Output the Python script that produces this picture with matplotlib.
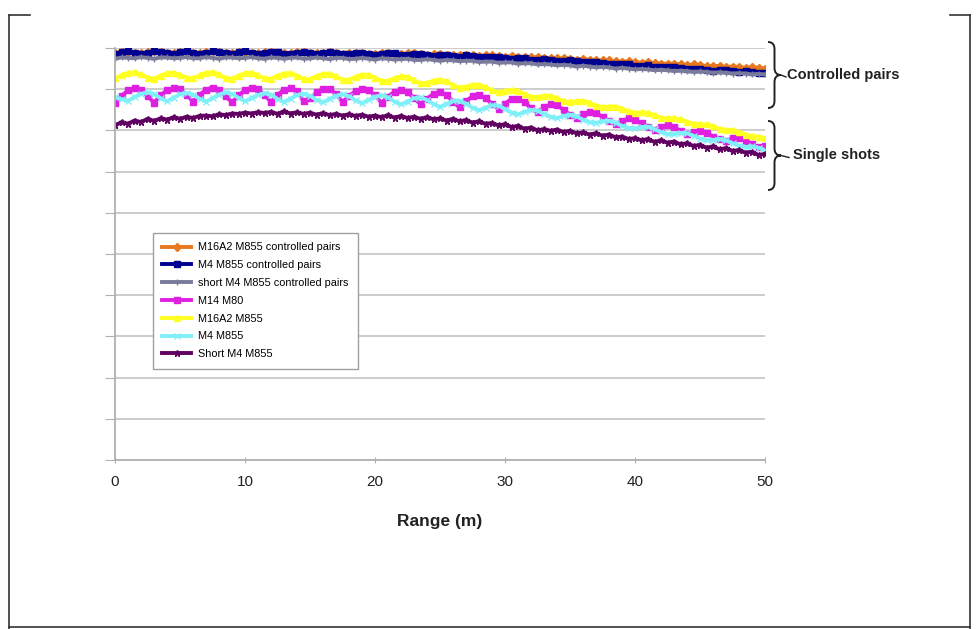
import matplotlib
matplotlib.use('Agg')
import matplotlib.pyplot as plt
from matplotlib.path import Path
from matplotlib.patches import PathPatch
from matplotlib.lines import Line2D

plt.rcParams['font.family'] = ['Liberation Sans', 'DejaVu Sans']

# range sampled every 0.5 m
range_m = [i * 0.5 for i in range(101)]

m16a2_m855_cp = [
    98.8, 99.1, 99.1, 98.8, 98.7, 99.0, 99.2, 99.0, 98.7, 98.8,
    99.1, 99.1, 98.8, 98.7, 99.0, 99.2, 99.0, 98.7, 98.8, 99.1,
    99.1, 98.8, 98.7, 99.0, 99.1, 98.9, 98.7, 98.8, 99.0, 99.0,
    98.7, 98.7, 98.9, 99.0, 98.8, 98.6, 98.7, 98.9, 98.9, 98.6,
    98.6, 98.8, 98.8, 98.6, 98.5, 98.7, 98.7, 98.5, 98.4, 98.6,
    98.6, 98.4, 98.3, 98.4, 98.4, 98.2, 98.1, 98.2, 98.2, 98.0,
    97.9, 98.0, 97.9, 97.7, 97.7, 97.8, 97.6, 97.5, 97.5, 97.5,
    97.3, 97.2, 97.3, 97.2, 97.0, 97.0, 97.0, 96.8, 96.7, 96.8,
    96.6, 96.4, 96.5, 96.4, 96.2, 96.2, 96.2, 96.0, 95.9, 96.0,
    95.8, 95.6, 95.7, 95.6, 95.4, 95.5, 95.4, 95.2, 95.3, 95.2,
    95.0]
m4_m855_cp = [
    98.6, 99.0, 99.2, 98.9, 98.6, 98.8, 99.2, 99.1, 98.7, 98.6,
    99.0, 99.2, 98.9, 98.6, 98.8, 99.2, 99.1, 98.7, 98.6, 99.0,
    99.2, 98.9, 98.6, 98.8, 99.1, 99.0, 98.6, 98.5, 98.9, 99.0,
    98.7, 98.5, 98.7, 99.0, 98.9, 98.5, 98.5, 98.8, 98.9, 98.6,
    98.4, 98.6, 98.8, 98.7, 98.3, 98.3, 98.6, 98.6, 98.2, 98.1,
    98.4, 98.4, 98.0, 97.9, 98.2, 98.1, 97.8, 97.7, 97.9, 97.9,
    97.5, 97.4, 97.6, 97.6, 97.2, 97.1, 97.3, 97.2, 96.9, 96.8,
    97.0, 96.8, 96.5, 96.5, 96.6, 96.4, 96.1, 96.1, 96.2, 96.0,
    95.7, 95.7, 95.8, 95.5, 95.3, 95.3, 95.4, 95.1, 94.9, 95.0,
    95.0, 94.7, 94.5, 94.6, 94.6, 94.3, 94.2, 94.3, 94.2, 93.9,
    93.9]
short_m4_m855_cp = [
    97.4, 97.7, 97.6, 97.5, 97.8, 97.6, 97.4, 97.7, 97.7, 97.5,
    97.6, 97.8, 97.5, 97.5, 97.8, 97.6, 97.4, 97.7, 97.7, 97.5,
    97.6, 97.8, 97.5, 97.4, 97.7, 97.6, 97.4, 97.6, 97.7, 97.4,
    97.5, 97.7, 97.5, 97.3, 97.6, 97.6, 97.3, 97.4, 97.6, 97.4,
    97.2, 97.5, 97.4, 97.2, 97.3, 97.4, 97.1, 97.1, 97.3, 97.1,
    96.9, 97.1, 97.0, 96.8, 96.9, 96.9, 96.6, 96.7, 96.7, 96.4,
    96.5, 96.5, 96.2, 96.3, 96.3, 96.0, 96.1, 96.0, 95.8, 95.9,
    95.8, 95.5, 95.7, 95.5, 95.3, 95.4, 95.3, 95.0, 95.2, 95.0,
    94.8, 94.9, 94.8, 94.6, 94.7, 94.6, 94.4, 94.5, 94.4, 94.2,
    94.3, 94.2, 94.0, 94.1, 94.0, 93.8, 93.9, 93.8, 93.6, 93.7,
    93.6]
m14_m80 = [
    86.6, 88.4, 89.7, 90.3, 89.9, 88.4, 86.7, 88.5, 89.8, 90.2,
    90.0, 88.7, 87.0, 88.6, 89.9, 90.4, 89.8, 88.3, 86.8, 88.5,
    89.8, 90.3, 90.1, 88.6, 86.9, 88.6, 89.9, 90.2, 89.5, 87.1,
    87.8, 89.2, 90.1, 90.0, 88.9, 86.9, 88.3, 89.6, 90.0, 89.7,
    88.5, 86.7, 88.2, 89.4, 89.8, 89.3, 87.9, 86.3, 87.7, 88.9,
    89.2, 88.6, 87.0, 85.6, 87.1, 88.3, 88.6, 87.9, 86.4, 85.2,
    86.5, 87.6, 87.7, 86.8, 85.4, 84.4, 85.6, 86.3, 86.1, 85.0,
    83.8, 83.0, 83.9, 84.5, 84.2, 83.3, 82.2, 81.5, 82.3, 82.9,
    82.5, 81.7, 80.8, 80.2, 80.9, 81.3, 80.8, 79.9, 79.1, 79.6,
    79.9, 79.4, 78.5, 77.8, 77.5, 78.1, 78.2, 77.5, 76.6, 75.9,
    76.2]
m16a2_m855 = [
    92.6, 93.4, 94.0, 94.1, 93.6, 92.8, 92.5, 93.3, 93.9, 94.0,
    93.5, 92.8, 92.6, 93.4, 94.0, 94.1, 93.6, 92.7, 92.5, 93.3,
    93.9, 94.0, 93.4, 92.6, 92.5, 93.3, 93.8, 93.9, 93.3, 92.5,
    92.4, 93.2, 93.7, 93.8, 93.1, 92.3, 92.3, 93.0, 93.5, 93.5,
    92.8, 92.0, 92.0, 92.7, 93.1, 93.0, 92.2, 91.4, 91.5, 92.1,
    92.3, 91.9, 91.0, 90.4, 90.6, 91.1, 91.1, 90.5, 89.7, 89.3,
    89.6, 89.9, 89.6, 88.8, 88.2, 88.1, 88.4, 88.4, 87.8, 87.1,
    86.9, 87.1, 87.2, 86.7, 86.0, 85.7, 85.8, 85.8, 85.3, 84.6,
    84.3, 84.4, 84.3, 83.7, 83.1, 82.9, 83.0, 82.7, 82.1, 81.6,
    81.5, 81.5, 81.0, 80.4, 80.1, 80.1, 79.6, 79.0, 78.6, 78.5,
    78.1]
m4_m855 = [
    88.0, 87.6, 87.2, 88.1, 88.9, 89.2, 88.8, 87.8, 87.1, 87.9,
    88.8, 89.1, 88.7, 87.7, 87.0, 87.8, 88.7, 89.2, 88.9, 87.9,
    87.1, 87.8, 88.6, 89.0, 88.7, 87.6, 86.9, 87.7, 88.6, 88.9,
    88.4, 87.4, 86.8, 87.6, 88.4, 88.8, 88.3, 87.3, 86.6, 87.4,
    88.2, 88.5, 88.0, 87.0, 86.3, 87.0, 87.8, 88.0, 87.4, 86.4,
    85.7, 86.4, 87.1, 87.2, 86.5, 85.5, 84.9, 85.5, 86.1, 86.0,
    85.2, 84.3, 83.9, 84.5, 85.0, 84.8, 84.0, 83.3, 83.0, 83.5,
    83.8, 83.4, 82.6, 82.0, 81.8, 82.2, 82.4, 81.9, 81.1, 80.6,
    80.5, 80.8, 80.9, 80.3, 79.6, 79.1, 79.1, 79.4, 79.3, 78.7,
    78.0, 77.6, 77.7, 77.9, 77.6, 76.9, 76.3, 76.0, 76.1, 75.8,
    75.2]
short_m4_m855 = [
    81.2, 82.0, 81.6, 82.4, 82.0, 82.8, 82.3, 82.9, 82.6, 83.2,
    82.8, 83.3, 83.0, 83.5, 83.6, 83.4, 83.9, 83.7, 84.1, 84.0,
    84.3, 84.1, 84.4, 84.2, 84.5, 84.0, 84.6, 84.1, 84.4, 84.0,
    84.3, 83.8, 84.2, 83.7, 84.0, 83.6, 83.9, 83.5, 83.8, 83.3,
    83.6, 83.2, 83.7, 83.1, 83.5, 83.0, 83.3, 82.8, 83.2, 82.7,
    82.9, 82.4, 82.8, 82.2, 82.5, 81.9, 82.2, 81.6, 81.8, 81.2,
    81.5, 80.8, 81.1, 80.4, 80.7, 80.0, 80.3, 79.9, 80.2, 79.6,
    79.9, 79.3, 79.5, 79.0, 79.3, 78.7, 79.0, 78.3, 78.5, 77.9,
    78.1, 77.6, 77.9, 77.2, 77.6, 77.0, 77.3, 76.6, 76.9, 76.2,
    76.5, 75.8, 76.1, 75.4, 75.7, 75.0, 75.2, 74.6, 74.8, 74.0,
    74.3]

series = [
    ('M16A2 M855 controlled pairs', m16a2_m855_cp, '#E8781E', 'D'),
    ('M4 M855 controlled pairs', m4_m855_cp, '#000090', 's'),
    ('short M4 M855 controlled pairs', short_m4_m855_cp, '#7A7A9A', '+'),
    ('M14 M80', m14_m80, '#E020E0', 's'),
    ('M16A2 M855', m16a2_m855, '#FFFF20', '^'),
    ('M4 M855', m4_m855, '#80F0F8', 'x'),
    ('Short M4 M855', short_m4_m855, '#600060', '*'),
]

fig = plt.figure(figsize=(9.8, 6.29), dpi=100)
ax = fig.add_axes([115 / 980, 1 - 460 / 629, 650 / 980, 412 / 629])

for name, vals, col, mk in series:
    ax.plot(range_m, vals, color=col, marker=mk, markersize=4.5,
            linewidth=2.8, label=name)

ax.set_xlim(0, 50)
ax.set_ylim(0, 100)
ax.set_xticks([0, 10, 20, 30, 40, 50])
ax.set_yticks(range(0, 101, 10))
ax.set_yticklabels([])
ax.yaxis.grid(True, color='#c8c8c8', linewidth=1.3)
ax.set_axisbelow(True)
ax.tick_params(axis='y', length=7, color='#b0b0b0')
ax.tick_params(axis='x', length=4, direction='inout', color='#b0b0b0',
               labelsize=11, pad=9, labelcolor='#222222')
for s in ['top', 'right']:
    ax.spines[s].set_visible(False)
for s in ['left', 'bottom']:
    ax.spines[s].set_color('#b0b0b0')
    ax.spines[s].set_linewidth(1.3)
ax.set_xlabel('Range (m)', fontsize=12.5, fontweight='bold', labelpad=18,
              color='#222222')

leg = ax.legend(loc='upper left', bbox_to_anchor=(0.058, 0.552), fontsize=7.8,
                fancybox=False, edgecolor='#a0a0a0', framealpha=1,
                handlelength=2.6, handletextpad=0.7, borderpad=0.9,
                borderaxespad=0, labelspacing=0.72, markerscale=1.0)
leg.get_frame().set_linewidth(1)


def px(x, y):
    return (x / 980, 1 - y / 629)


def brace(xl, yt, yb, d=13, c=7):
    ym = (yt + yb) / 2
    xm = xl + d / 2
    pts = [(xl, yt), (xm, yt), (xm, yt + c), (xm, ym - c), (xm, ym), (xl + d, ym),
           (xm, ym), (xm, ym + c), (xm, yb - c), (xm, yb), (xl, yb)]
    codes = [Path.MOVETO, Path.CURVE3, Path.CURVE3, Path.LINETO, Path.CURVE3,
             Path.CURVE3, Path.CURVE3, Path.CURVE3, Path.LINETO, Path.CURVE3,
             Path.CURVE3]
    path = Path([px(*p) for p in pts], codes)
    fig.add_artist(PathPatch(path, transform=fig.transFigure, fill=False,
                             edgecolor='#222222', linewidth=1.4))
    return xl + d, ym


tx, ty = brace(768, 42, 108)
fig.add_artist(Line2D(*zip(px(tx, ty), px(tx + 5, ty + 2)), color='#222222',
                      linewidth=1))
fig.text(*px(tx + 6, ty), 'Controlled pairs', fontsize=10.5, fontweight='bold',
         color='#222222', va='center')
tx, ty = brace(768, 121, 190)
fig.add_artist(Line2D(*zip(px(tx, ty), px(tx + 8, ty + 2)), color='#222222',
                      linewidth=1))
fig.text(*px(tx + 12, ty), 'Single shots', fontsize=10.5, fontweight='bold',
         color='#222222', va='center')

# page frame
frame = [((9, 15), (9, 629)), ((9, 15), (30, 15)), ((950, 15), (970, 15)),
         ((970, 15), (970, 629)), ((9, 627), (970, 627))]
for a, b in frame:
    fig.add_artist(Line2D(*zip(px(*a), px(*b)), color='#333333', linewidth=1.2))

fig.savefig('out.png', dpi=100)
